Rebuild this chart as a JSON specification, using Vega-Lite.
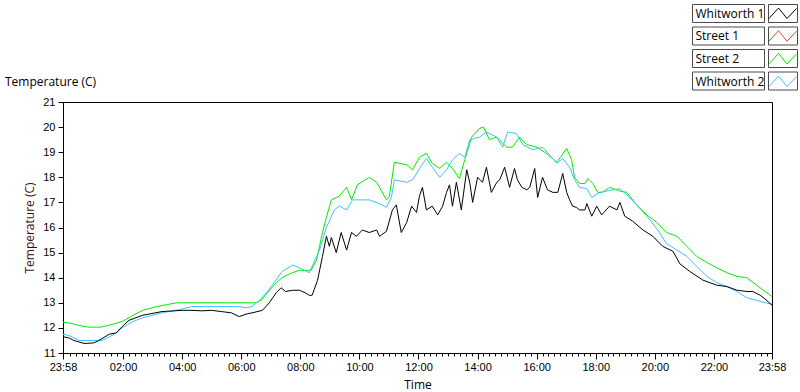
{
"$schema": "https://vega.github.io/schema/vega-lite/v6.json",
"autosize": {"type": "none"},
"width": 709,
"height": 251,
"padding": {"left": 63, "top": 102, "right": 28, "bottom": 39},
"background": "white",
"title": {"text": "Temperature (C)", "anchor": "start", "frame": "group", "dx": -58, "dy": 109, "offset": 14, "baseline": "alphabetic", "font": "Open Sans", "fontSize": 12, "fontWeight": "normal", "color": "black"},
"config": {
  "view": {"stroke": "black", "strokeWidth": 1},
  "axis": {"grid": false, "labelFont": "Liberation Sans", "labelFontSize": 11, "labelColor": "black", "domainColor": "black", "tickColor": "black", "titleFont": "Open Sans", "titleFontSize": 12, "titleFontWeight": "normal", "titleColor": "black"}
},
"data": {"values": [
{"s":"Street 2","t":"2024-01-01T23:58","v":12.22},
{"s":"Street 2","t":"2024-01-02T00:10","v":12.2},
{"s":"Street 2","t":"2024-01-02T00:30","v":12.1},
{"s":"Street 2","t":"2024-01-02T00:50","v":12.03},
{"s":"Street 2","t":"2024-01-02T01:15","v":12.03},
{"s":"Street 2","t":"2024-01-02T01:30","v":12.1},
{"s":"Street 2","t":"2024-01-02T01:45","v":12.18},
{"s":"Street 2","t":"2024-01-02T02:00","v":12.27},
{"s":"Street 2","t":"2024-01-02T02:20","v":12.5},
{"s":"Street 2","t":"2024-01-02T02:40","v":12.7},
{"s":"Street 2","t":"2024-01-02T03:08","v":12.85},
{"s":"Street 2","t":"2024-01-02T03:30","v":12.93},
{"s":"Street 2","t":"2024-01-02T03:48","v":13.0},
{"s":"Street 2","t":"2024-01-02T04:30","v":13.0},
{"s":"Street 2","t":"2024-01-02T05:30","v":13.0},
{"s":"Street 2","t":"2024-01-02T06:30","v":13.0},
{"s":"Street 2","t":"2024-01-02T06:40","v":13.1},
{"s":"Street 2","t":"2024-01-02T06:51","v":13.35},
{"s":"Street 2","t":"2024-01-02T07:11","v":13.8},
{"s":"Street 2","t":"2024-01-02T07:23","v":14.0},
{"s":"Street 2","t":"2024-01-02T07:38","v":14.15},
{"s":"Street 2","t":"2024-01-02T07:58","v":14.3},
{"s":"Street 2","t":"2024-01-02T08:10","v":14.28},
{"s":"Street 2","t":"2024-01-02T08:22","v":14.3},
{"s":"Street 2","t":"2024-01-02T08:33","v":14.7},
{"s":"Street 2","t":"2024-01-02T08:45","v":15.8},
{"s":"Street 2","t":"2024-01-02T08:53","v":16.4},
{"s":"Street 2","t":"2024-01-02T09:03","v":17.1},
{"s":"Street 2","t":"2024-01-02T09:19","v":17.25},
{"s":"Street 2","t":"2024-01-02T09:34","v":17.6},
{"s":"Street 2","t":"2024-01-02T09:44","v":17.1},
{"s":"Street 2","t":"2024-01-02T09:56","v":17.7},
{"s":"Street 2","t":"2024-01-02T10:20","v":18.0},
{"s":"Street 2","t":"2024-01-02T10:35","v":17.8},
{"s":"Street 2","t":"2024-01-02T10:55","v":17.1},
{"s":"Street 2","t":"2024-01-02T11:01","v":17.25},
{"s":"Street 2","t":"2024-01-02T11:11","v":18.6},
{"s":"Street 2","t":"2024-01-02T11:36","v":18.5},
{"s":"Street 2","t":"2024-01-02T11:48","v":18.3},
{"s":"Street 2","t":"2024-01-02T12:02","v":18.8},
{"s":"Street 2","t":"2024-01-02T12:16","v":18.95},
{"s":"Street 2","t":"2024-01-02T12:28","v":18.55},
{"s":"Street 2","t":"2024-01-02T12:43","v":18.35},
{"s":"Street 2","t":"2024-01-02T12:57","v":18.6},
{"s":"Street 2","t":"2024-01-02T13:09","v":18.35},
{"s":"Street 2","t":"2024-01-02T13:23","v":17.95},
{"s":"Street 2","t":"2024-01-02T13:34","v":18.7},
{"s":"Street 2","t":"2024-01-02T13:48","v":19.6},
{"s":"Street 2","t":"2024-01-02T14:04","v":19.95},
{"s":"Street 2","t":"2024-01-02T14:12","v":20.0},
{"s":"Street 2","t":"2024-01-02T14:24","v":19.5},
{"s":"Street 2","t":"2024-01-02T14:39","v":19.6},
{"s":"Street 2","t":"2024-01-02T14:59","v":19.2},
{"s":"Street 2","t":"2024-01-02T15:11","v":19.2},
{"s":"Street 2","t":"2024-01-02T15:25","v":19.6},
{"s":"Street 2","t":"2024-01-02T15:40","v":19.3},
{"s":"Street 2","t":"2024-01-02T16:00","v":19.2},
{"s":"Street 2","t":"2024-01-02T16:20","v":18.95},
{"s":"Street 2","t":"2024-01-02T16:41","v":18.6},
{"s":"Street 2","t":"2024-01-02T17:01","v":19.15},
{"s":"Street 2","t":"2024-01-02T17:11","v":18.7},
{"s":"Street 2","t":"2024-01-02T17:17","v":18.0},
{"s":"Street 2","t":"2024-01-02T17:27","v":17.75},
{"s":"Street 2","t":"2024-01-02T17:38","v":17.75},
{"s":"Street 2","t":"2024-01-02T17:44","v":17.95},
{"s":"Street 2","t":"2024-01-02T17:54","v":17.75},
{"s":"Street 2","t":"2024-01-02T18:04","v":17.4},
{"s":"Street 2","t":"2024-01-02T18:14","v":17.4},
{"s":"Street 2","t":"2024-01-02T18:28","v":17.6},
{"s":"Street 2","t":"2024-01-02T18:49","v":17.45},
{"s":"Street 2","t":"2024-01-02T19:03","v":17.4},
{"s":"Street 2","t":"2024-01-02T19:23","v":16.9},
{"s":"Street 2","t":"2024-01-02T19:44","v":16.5},
{"s":"Street 2","t":"2024-01-02T20:04","v":16.2},
{"s":"Street 2","t":"2024-01-02T20:24","v":15.8},
{"s":"Street 2","t":"2024-01-02T20:45","v":15.65},
{"s":"Street 2","t":"2024-01-02T21:05","v":15.25},
{"s":"Street 2","t":"2024-01-02T21:25","v":14.85},
{"s":"Street 2","t":"2024-01-02T21:46","v":14.6},
{"s":"Street 2","t":"2024-01-02T22:06","v":14.4},
{"s":"Street 2","t":"2024-01-02T22:26","v":14.2},
{"s":"Street 2","t":"2024-01-02T22:47","v":14.05},
{"s":"Street 2","t":"2024-01-02T23:07","v":14.0},
{"s":"Street 2","t":"2024-01-02T23:27","v":13.7},
{"s":"Street 2","t":"2024-01-02T23:44","v":13.45},
{"s":"Street 2","t":"2024-01-02T23:58","v":13.25},
{"s":"Whitworth 2","t":"2024-01-01T23:58","v":11.75},
{"s":"Whitworth 2","t":"2024-01-02T00:10","v":11.7},
{"s":"Whitworth 2","t":"2024-01-02T00:31","v":11.5},
{"s":"Whitworth 2","t":"2024-01-02T01:17","v":11.5},
{"s":"Whitworth 2","t":"2024-01-02T01:30","v":11.62},
{"s":"Whitworth 2","t":"2024-01-02T01:46","v":11.8},
{"s":"Whitworth 2","t":"2024-01-02T01:58","v":12.0},
{"s":"Whitworth 2","t":"2024-01-02T02:20","v":12.25},
{"s":"Whitworth 2","t":"2024-01-02T02:39","v":12.4},
{"s":"Whitworth 2","t":"2024-01-02T03:19","v":12.6},
{"s":"Whitworth 2","t":"2024-01-02T03:48","v":12.7},
{"s":"Whitworth 2","t":"2024-01-02T04:20","v":12.85},
{"s":"Whitworth 2","t":"2024-01-02T05:00","v":12.85},
{"s":"Whitworth 2","t":"2024-01-02T05:56","v":12.85},
{"s":"Whitworth 2","t":"2024-01-02T06:10","v":12.8},
{"s":"Whitworth 2","t":"2024-01-02T06:22","v":12.85},
{"s":"Whitworth 2","t":"2024-01-02T06:37","v":13.1},
{"s":"Whitworth 2","t":"2024-01-02T06:51","v":13.4},
{"s":"Whitworth 2","t":"2024-01-02T07:03","v":13.7},
{"s":"Whitworth 2","t":"2024-01-02T07:23","v":14.25},
{"s":"Whitworth 2","t":"2024-01-02T07:44","v":14.5},
{"s":"Whitworth 2","t":"2024-01-02T07:58","v":14.4},
{"s":"Whitworth 2","t":"2024-01-02T08:18","v":14.2},
{"s":"Whitworth 2","t":"2024-01-02T08:39","v":15.1},
{"s":"Whitworth 2","t":"2024-01-02T08:53","v":16.0},
{"s":"Whitworth 2","t":"2024-01-02T09:09","v":16.7},
{"s":"Whitworth 2","t":"2024-01-02T09:19","v":16.85},
{"s":"Whitworth 2","t":"2024-01-02T09:34","v":16.7},
{"s":"Whitworth 2","t":"2024-01-02T09:46","v":17.1},
{"s":"Whitworth 2","t":"2024-01-02T10:20","v":17.1},
{"s":"Whitworth 2","t":"2024-01-02T10:41","v":16.95},
{"s":"Whitworth 2","t":"2024-01-02T10:55","v":16.8},
{"s":"Whitworth 2","t":"2024-01-02T11:05","v":17.2},
{"s":"Whitworth 2","t":"2024-01-02T11:11","v":17.9},
{"s":"Whitworth 2","t":"2024-01-02T11:36","v":17.8},
{"s":"Whitworth 2","t":"2024-01-02T11:48","v":17.9},
{"s":"Whitworth 2","t":"2024-01-02T12:02","v":18.35},
{"s":"Whitworth 2","t":"2024-01-02T12:16","v":18.75},
{"s":"Whitworth 2","t":"2024-01-02T12:28","v":18.4},
{"s":"Whitworth 2","t":"2024-01-02T12:43","v":18.0},
{"s":"Whitworth 2","t":"2024-01-02T12:57","v":18.3},
{"s":"Whitworth 2","t":"2024-01-02T13:09","v":18.7},
{"s":"Whitworth 2","t":"2024-01-02T13:23","v":18.95},
{"s":"Whitworth 2","t":"2024-01-02T13:34","v":18.8},
{"s":"Whitworth 2","t":"2024-01-02T13:44","v":19.5},
{"s":"Whitworth 2","t":"2024-01-02T14:04","v":19.6},
{"s":"Whitworth 2","t":"2024-01-02T14:18","v":19.8},
{"s":"Whitworth 2","t":"2024-01-02T14:39","v":19.6},
{"s":"Whitworth 2","t":"2024-01-02T14:51","v":19.2},
{"s":"Whitworth 2","t":"2024-01-02T15:01","v":19.8},
{"s":"Whitworth 2","t":"2024-01-02T15:19","v":19.75},
{"s":"Whitworth 2","t":"2024-01-02T15:32","v":19.3},
{"s":"Whitworth 2","t":"2024-01-02T15:52","v":19.1},
{"s":"Whitworth 2","t":"2024-01-02T16:12","v":19.2},
{"s":"Whitworth 2","t":"2024-01-02T16:26","v":18.9},
{"s":"Whitworth 2","t":"2024-01-02T16:41","v":18.55},
{"s":"Whitworth 2","t":"2024-01-02T16:53","v":18.75},
{"s":"Whitworth 2","t":"2024-01-02T17:07","v":18.4},
{"s":"Whitworth 2","t":"2024-01-02T17:17","v":17.9},
{"s":"Whitworth 2","t":"2024-01-02T17:27","v":17.6},
{"s":"Whitworth 2","t":"2024-01-02T17:42","v":17.55},
{"s":"Whitworth 2","t":"2024-01-02T17:52","v":17.2},
{"s":"Whitworth 2","t":"2024-01-02T18:08","v":17.4},
{"s":"Whitworth 2","t":"2024-01-02T18:22","v":17.45},
{"s":"Whitworth 2","t":"2024-01-02T18:35","v":17.5},
{"s":"Whitworth 2","t":"2024-01-02T18:49","v":17.55},
{"s":"Whitworth 2","t":"2024-01-02T19:03","v":17.3},
{"s":"Whitworth 2","t":"2024-01-02T19:23","v":16.9},
{"s":"Whitworth 2","t":"2024-01-02T19:44","v":16.45},
{"s":"Whitworth 2","t":"2024-01-02T20:04","v":15.95},
{"s":"Whitworth 2","t":"2024-01-02T20:24","v":15.35},
{"s":"Whitworth 2","t":"2024-01-02T20:45","v":15.1},
{"s":"Whitworth 2","t":"2024-01-02T21:05","v":14.85},
{"s":"Whitworth 2","t":"2024-01-02T21:25","v":14.45},
{"s":"Whitworth 2","t":"2024-01-02T21:46","v":14.05},
{"s":"Whitworth 2","t":"2024-01-02T22:06","v":13.8},
{"s":"Whitworth 2","t":"2024-01-02T22:26","v":13.65},
{"s":"Whitworth 2","t":"2024-01-02T22:47","v":13.45},
{"s":"Whitworth 2","t":"2024-01-02T23:07","v":13.2},
{"s":"Whitworth 2","t":"2024-01-02T23:27","v":13.1},
{"s":"Whitworth 2","t":"2024-01-02T23:44","v":13.0},
{"s":"Whitworth 2","t":"2024-01-02T23:58","v":12.95},
{"s":"Whitworth 1","t":"2024-01-01T23:58","v":11.65},
{"s":"Whitworth 1","t":"2024-01-02T00:10","v":11.6},
{"s":"Whitworth 1","t":"2024-01-02T00:20","v":11.5},
{"s":"Whitworth 1","t":"2024-01-02T00:41","v":11.38},
{"s":"Whitworth 1","t":"2024-01-02T01:00","v":11.4},
{"s":"Whitworth 1","t":"2024-01-02T01:11","v":11.5},
{"s":"Whitworth 1","t":"2024-01-02T01:32","v":11.75},
{"s":"Whitworth 1","t":"2024-01-02T01:46","v":11.8},
{"s":"Whitworth 1","t":"2024-01-02T01:58","v":12.05},
{"s":"Whitworth 1","t":"2024-01-02T02:12","v":12.3},
{"s":"Whitworth 1","t":"2024-01-02T02:39","v":12.5},
{"s":"Whitworth 1","t":"2024-01-02T03:19","v":12.65},
{"s":"Whitworth 1","t":"2024-01-02T04:00","v":12.7},
{"s":"Whitworth 1","t":"2024-01-02T04:20","v":12.7},
{"s":"Whitworth 1","t":"2024-01-02T04:40","v":12.68},
{"s":"Whitworth 1","t":"2024-01-02T05:00","v":12.7},
{"s":"Whitworth 1","t":"2024-01-02T05:20","v":12.65},
{"s":"Whitworth 1","t":"2024-01-02T05:40","v":12.6},
{"s":"Whitworth 1","t":"2024-01-02T05:56","v":12.45},
{"s":"Whitworth 1","t":"2024-01-02T06:10","v":12.55},
{"s":"Whitworth 1","t":"2024-01-02T06:22","v":12.6},
{"s":"Whitworth 1","t":"2024-01-02T06:43","v":12.7},
{"s":"Whitworth 1","t":"2024-01-02T06:57","v":13.0},
{"s":"Whitworth 1","t":"2024-01-02T07:11","v":13.4},
{"s":"Whitworth 1","t":"2024-01-02T07:21","v":13.6},
{"s":"Whitworth 1","t":"2024-01-02T07:30","v":13.45},
{"s":"Whitworth 1","t":"2024-01-02T07:44","v":13.5},
{"s":"Whitworth 1","t":"2024-01-02T07:58","v":13.5},
{"s":"Whitworth 1","t":"2024-01-02T08:10","v":13.4},
{"s":"Whitworth 1","t":"2024-01-02T08:18","v":13.3},
{"s":"Whitworth 1","t":"2024-01-02T08:24","v":13.3},
{"s":"Whitworth 1","t":"2024-01-02T08:35","v":13.9},
{"s":"Whitworth 1","t":"2024-01-02T08:45","v":14.85},
{"s":"Whitworth 1","t":"2024-01-02T08:53","v":15.65},
{"s":"Whitworth 1","t":"2024-01-02T08:59","v":15.25},
{"s":"Whitworth 1","t":"2024-01-02T09:03","v":15.6},
{"s":"Whitworth 1","t":"2024-01-02T09:13","v":15.0},
{"s":"Whitworth 1","t":"2024-01-02T09:23","v":15.8},
{"s":"Whitworth 1","t":"2024-01-02T09:34","v":15.1},
{"s":"Whitworth 1","t":"2024-01-02T09:44","v":15.8},
{"s":"Whitworth 1","t":"2024-01-02T09:54","v":15.65},
{"s":"Whitworth 1","t":"2024-01-02T10:06","v":15.9},
{"s":"Whitworth 1","t":"2024-01-02T10:20","v":15.8},
{"s":"Whitworth 1","t":"2024-01-02T10:35","v":15.9},
{"s":"Whitworth 1","t":"2024-01-02T10:41","v":15.65},
{"s":"Whitworth 1","t":"2024-01-02T10:55","v":15.85},
{"s":"Whitworth 1","t":"2024-01-02T11:07","v":16.7},
{"s":"Whitworth 1","t":"2024-01-02T11:15","v":16.9},
{"s":"Whitworth 1","t":"2024-01-02T11:25","v":15.8},
{"s":"Whitworth 1","t":"2024-01-02T11:36","v":16.2},
{"s":"Whitworth 1","t":"2024-01-02T11:46","v":16.85},
{"s":"Whitworth 1","t":"2024-01-02T11:56","v":16.6},
{"s":"Whitworth 1","t":"2024-01-02T12:02","v":17.25},
{"s":"Whitworth 1","t":"2024-01-02T12:08","v":17.6},
{"s":"Whitworth 1","t":"2024-01-02T12:16","v":16.7},
{"s":"Whitworth 1","t":"2024-01-02T12:28","v":16.85},
{"s":"Whitworth 1","t":"2024-01-02T12:39","v":16.5},
{"s":"Whitworth 1","t":"2024-01-02T12:49","v":16.85},
{"s":"Whitworth 1","t":"2024-01-02T12:57","v":17.4},
{"s":"Whitworth 1","t":"2024-01-02T13:03","v":17.7},
{"s":"Whitworth 1","t":"2024-01-02T13:09","v":16.85},
{"s":"Whitworth 1","t":"2024-01-02T13:17","v":17.8},
{"s":"Whitworth 1","t":"2024-01-02T13:27","v":16.7},
{"s":"Whitworth 1","t":"2024-01-02T13:38","v":18.3},
{"s":"Whitworth 1","t":"2024-01-02T13:44","v":17.8},
{"s":"Whitworth 1","t":"2024-01-02T13:50","v":17.0},
{"s":"Whitworth 1","t":"2024-01-02T14:00","v":18.0},
{"s":"Whitworth 1","t":"2024-01-02T14:10","v":17.8},
{"s":"Whitworth 1","t":"2024-01-02T14:18","v":18.4},
{"s":"Whitworth 1","t":"2024-01-02T14:28","v":17.4},
{"s":"Whitworth 1","t":"2024-01-02T14:39","v":17.8},
{"s":"Whitworth 1","t":"2024-01-02T14:45","v":17.9},
{"s":"Whitworth 1","t":"2024-01-02T14:55","v":18.4},
{"s":"Whitworth 1","t":"2024-01-02T15:05","v":17.6},
{"s":"Whitworth 1","t":"2024-01-02T15:15","v":18.35},
{"s":"Whitworth 1","t":"2024-01-02T15:21","v":17.9},
{"s":"Whitworth 1","t":"2024-01-02T15:30","v":17.6},
{"s":"Whitworth 1","t":"2024-01-02T15:40","v":17.5},
{"s":"Whitworth 1","t":"2024-01-02T15:46","v":17.6},
{"s":"Whitworth 1","t":"2024-01-02T15:56","v":18.35},
{"s":"Whitworth 1","t":"2024-01-02T16:02","v":17.2},
{"s":"Whitworth 1","t":"2024-01-02T16:12","v":18.0},
{"s":"Whitworth 1","t":"2024-01-02T16:22","v":17.5},
{"s":"Whitworth 1","t":"2024-01-02T16:33","v":17.4},
{"s":"Whitworth 1","t":"2024-01-02T16:43","v":17.4},
{"s":"Whitworth 1","t":"2024-01-02T16:53","v":18.15},
{"s":"Whitworth 1","t":"2024-01-02T17:01","v":17.4},
{"s":"Whitworth 1","t":"2024-01-02T17:07","v":17.1},
{"s":"Whitworth 1","t":"2024-01-02T17:13","v":16.85},
{"s":"Whitworth 1","t":"2024-01-02T17:21","v":16.8},
{"s":"Whitworth 1","t":"2024-01-02T17:27","v":16.7},
{"s":"Whitworth 1","t":"2024-01-02T17:38","v":16.7},
{"s":"Whitworth 1","t":"2024-01-02T17:42","v":16.95},
{"s":"Whitworth 1","t":"2024-01-02T17:52","v":16.45},
{"s":"Whitworth 1","t":"2024-01-02T18:02","v":16.85},
{"s":"Whitworth 1","t":"2024-01-02T18:12","v":16.5},
{"s":"Whitworth 1","t":"2024-01-02T18:28","v":16.85},
{"s":"Whitworth 1","t":"2024-01-02T18:43","v":16.7},
{"s":"Whitworth 1","t":"2024-01-02T18:49","v":17.0},
{"s":"Whitworth 1","t":"2024-01-02T18:59","v":16.45},
{"s":"Whitworth 1","t":"2024-01-02T19:15","v":16.25},
{"s":"Whitworth 1","t":"2024-01-02T19:36","v":15.9},
{"s":"Whitworth 1","t":"2024-01-02T19:56","v":15.65},
{"s":"Whitworth 1","t":"2024-01-02T20:16","v":15.25},
{"s":"Whitworth 1","t":"2024-01-02T20:37","v":15.05},
{"s":"Whitworth 1","t":"2024-01-02T20:51","v":14.55},
{"s":"Whitworth 1","t":"2024-01-02T21:11","v":14.25},
{"s":"Whitworth 1","t":"2024-01-02T21:38","v":13.9},
{"s":"Whitworth 1","t":"2024-01-02T22:06","v":13.7},
{"s":"Whitworth 1","t":"2024-01-02T22:26","v":13.65},
{"s":"Whitworth 1","t":"2024-01-02T22:47","v":13.5},
{"s":"Whitworth 1","t":"2024-01-02T23:07","v":13.45},
{"s":"Whitworth 1","t":"2024-01-02T23:19","v":13.45},
{"s":"Whitworth 1","t":"2024-01-02T23:34","v":13.3},
{"s":"Whitworth 1","t":"2024-01-02T23:44","v":13.15},
{"s":"Whitworth 1","t":"2024-01-02T23:58","v":12.9}
]},
"layer": [
  {
    "mark": {"type": "line", "strokeWidth": 1},
    "encoding": {
      "x": {"field": "t", "type": "temporal", "title": "Time",
        "scale": {"domain": [{"year": 2024, "month": 1, "date": 1, "hours": 23, "minutes": 58}, {"year": 2024, "month": 1, "date": 2, "hours": 23, "minutes": 58}]},
        "axis": {"orient": "bottom", "labelFlush": false, "labelOverlap": false, "labelPadding": 2, "titlePadding": 7,
          "tickSize": {"condition": {"test": "minutes(datum.value) == 58 || (minutes(datum.value) == 0 && hours(datum.value) % 2 == 0)", "value": 6}, "value": 3},
          "labelExpr": "minutes(datum.value) == 58 || (minutes(datum.value) == 0 && hours(datum.value) % 2 == 0) ? timeFormat(datum.value, '%H:%M') : ''",
          "values": [
{"year":2024,"month":1,"date":1,"hours":23,"minutes":58},
{"year":2024,"month":1,"date":2,"hours":0,"minutes":12},{"year":2024,"month":1,"date":2,"hours":0,"minutes":24},{"year":2024,"month":1,"date":2,"hours":0,"minutes":36},{"year":2024,"month":1,"date":2,"hours":0,"minutes":48},
{"year":2024,"month":1,"date":2,"hours":1,"minutes":0},{"year":2024,"month":1,"date":2,"hours":1,"minutes":12},{"year":2024,"month":1,"date":2,"hours":1,"minutes":24},{"year":2024,"month":1,"date":2,"hours":1,"minutes":36},{"year":2024,"month":1,"date":2,"hours":1,"minutes":48},
{"year":2024,"month":1,"date":2,"hours":2,"minutes":0},{"year":2024,"month":1,"date":2,"hours":2,"minutes":12},{"year":2024,"month":1,"date":2,"hours":2,"minutes":24},{"year":2024,"month":1,"date":2,"hours":2,"minutes":36},{"year":2024,"month":1,"date":2,"hours":2,"minutes":48},
{"year":2024,"month":1,"date":2,"hours":3,"minutes":0},{"year":2024,"month":1,"date":2,"hours":3,"minutes":12},{"year":2024,"month":1,"date":2,"hours":3,"minutes":24},{"year":2024,"month":1,"date":2,"hours":3,"minutes":36},{"year":2024,"month":1,"date":2,"hours":3,"minutes":48},
{"year":2024,"month":1,"date":2,"hours":4,"minutes":0},{"year":2024,"month":1,"date":2,"hours":4,"minutes":12},{"year":2024,"month":1,"date":2,"hours":4,"minutes":24},{"year":2024,"month":1,"date":2,"hours":4,"minutes":36},{"year":2024,"month":1,"date":2,"hours":4,"minutes":48},
{"year":2024,"month":1,"date":2,"hours":5,"minutes":0},{"year":2024,"month":1,"date":2,"hours":5,"minutes":12},{"year":2024,"month":1,"date":2,"hours":5,"minutes":24},{"year":2024,"month":1,"date":2,"hours":5,"minutes":36},{"year":2024,"month":1,"date":2,"hours":5,"minutes":48},
{"year":2024,"month":1,"date":2,"hours":6,"minutes":0},{"year":2024,"month":1,"date":2,"hours":6,"minutes":12},{"year":2024,"month":1,"date":2,"hours":6,"minutes":24},{"year":2024,"month":1,"date":2,"hours":6,"minutes":36},{"year":2024,"month":1,"date":2,"hours":6,"minutes":48},
{"year":2024,"month":1,"date":2,"hours":7,"minutes":0},{"year":2024,"month":1,"date":2,"hours":7,"minutes":12},{"year":2024,"month":1,"date":2,"hours":7,"minutes":24},{"year":2024,"month":1,"date":2,"hours":7,"minutes":36},{"year":2024,"month":1,"date":2,"hours":7,"minutes":48},
{"year":2024,"month":1,"date":2,"hours":8,"minutes":0},{"year":2024,"month":1,"date":2,"hours":8,"minutes":12},{"year":2024,"month":1,"date":2,"hours":8,"minutes":24},{"year":2024,"month":1,"date":2,"hours":8,"minutes":36},{"year":2024,"month":1,"date":2,"hours":8,"minutes":48},
{"year":2024,"month":1,"date":2,"hours":9,"minutes":0},{"year":2024,"month":1,"date":2,"hours":9,"minutes":12},{"year":2024,"month":1,"date":2,"hours":9,"minutes":24},{"year":2024,"month":1,"date":2,"hours":9,"minutes":36},{"year":2024,"month":1,"date":2,"hours":9,"minutes":48},
{"year":2024,"month":1,"date":2,"hours":10,"minutes":0},{"year":2024,"month":1,"date":2,"hours":10,"minutes":12},{"year":2024,"month":1,"date":2,"hours":10,"minutes":24},{"year":2024,"month":1,"date":2,"hours":10,"minutes":36},{"year":2024,"month":1,"date":2,"hours":10,"minutes":48},
{"year":2024,"month":1,"date":2,"hours":11,"minutes":0},{"year":2024,"month":1,"date":2,"hours":11,"minutes":12},{"year":2024,"month":1,"date":2,"hours":11,"minutes":24},{"year":2024,"month":1,"date":2,"hours":11,"minutes":36},{"year":2024,"month":1,"date":2,"hours":11,"minutes":48},
{"year":2024,"month":1,"date":2,"hours":12,"minutes":0},{"year":2024,"month":1,"date":2,"hours":12,"minutes":12},{"year":2024,"month":1,"date":2,"hours":12,"minutes":24},{"year":2024,"month":1,"date":2,"hours":12,"minutes":36},{"year":2024,"month":1,"date":2,"hours":12,"minutes":48},
{"year":2024,"month":1,"date":2,"hours":13,"minutes":0},{"year":2024,"month":1,"date":2,"hours":13,"minutes":12},{"year":2024,"month":1,"date":2,"hours":13,"minutes":24},{"year":2024,"month":1,"date":2,"hours":13,"minutes":36},{"year":2024,"month":1,"date":2,"hours":13,"minutes":48},
{"year":2024,"month":1,"date":2,"hours":14,"minutes":0},{"year":2024,"month":1,"date":2,"hours":14,"minutes":12},{"year":2024,"month":1,"date":2,"hours":14,"minutes":24},{"year":2024,"month":1,"date":2,"hours":14,"minutes":36},{"year":2024,"month":1,"date":2,"hours":14,"minutes":48},
{"year":2024,"month":1,"date":2,"hours":15,"minutes":0},{"year":2024,"month":1,"date":2,"hours":15,"minutes":12},{"year":2024,"month":1,"date":2,"hours":15,"minutes":24},{"year":2024,"month":1,"date":2,"hours":15,"minutes":36},{"year":2024,"month":1,"date":2,"hours":15,"minutes":48},
{"year":2024,"month":1,"date":2,"hours":16,"minutes":0},{"year":2024,"month":1,"date":2,"hours":16,"minutes":12},{"year":2024,"month":1,"date":2,"hours":16,"minutes":24},{"year":2024,"month":1,"date":2,"hours":16,"minutes":36},{"year":2024,"month":1,"date":2,"hours":16,"minutes":48},
{"year":2024,"month":1,"date":2,"hours":17,"minutes":0},{"year":2024,"month":1,"date":2,"hours":17,"minutes":12},{"year":2024,"month":1,"date":2,"hours":17,"minutes":24},{"year":2024,"month":1,"date":2,"hours":17,"minutes":36},{"year":2024,"month":1,"date":2,"hours":17,"minutes":48},
{"year":2024,"month":1,"date":2,"hours":18,"minutes":0},{"year":2024,"month":1,"date":2,"hours":18,"minutes":12},{"year":2024,"month":1,"date":2,"hours":18,"minutes":24},{"year":2024,"month":1,"date":2,"hours":18,"minutes":36},{"year":2024,"month":1,"date":2,"hours":18,"minutes":48},
{"year":2024,"month":1,"date":2,"hours":19,"minutes":0},{"year":2024,"month":1,"date":2,"hours":19,"minutes":12},{"year":2024,"month":1,"date":2,"hours":19,"minutes":24},{"year":2024,"month":1,"date":2,"hours":19,"minutes":36},{"year":2024,"month":1,"date":2,"hours":19,"minutes":48},
{"year":2024,"month":1,"date":2,"hours":20,"minutes":0},{"year":2024,"month":1,"date":2,"hours":20,"minutes":12},{"year":2024,"month":1,"date":2,"hours":20,"minutes":24},{"year":2024,"month":1,"date":2,"hours":20,"minutes":36},{"year":2024,"month":1,"date":2,"hours":20,"minutes":48},
{"year":2024,"month":1,"date":2,"hours":21,"minutes":0},{"year":2024,"month":1,"date":2,"hours":21,"minutes":12},{"year":2024,"month":1,"date":2,"hours":21,"minutes":24},{"year":2024,"month":1,"date":2,"hours":21,"minutes":36},{"year":2024,"month":1,"date":2,"hours":21,"minutes":48},
{"year":2024,"month":1,"date":2,"hours":22,"minutes":0},{"year":2024,"month":1,"date":2,"hours":22,"minutes":12},{"year":2024,"month":1,"date":2,"hours":22,"minutes":24},{"year":2024,"month":1,"date":2,"hours":22,"minutes":36},{"year":2024,"month":1,"date":2,"hours":22,"minutes":48},
{"year":2024,"month":1,"date":2,"hours":23,"minutes":0},{"year":2024,"month":1,"date":2,"hours":23,"minutes":12},{"year":2024,"month":1,"date":2,"hours":23,"minutes":24},{"year":2024,"month":1,"date":2,"hours":23,"minutes":36},{"year":2024,"month":1,"date":2,"hours":23,"minutes":48},
{"year":2024,"month":1,"date":2,"hours":23,"minutes":58}
          ]}},
      "y": {"field": "v", "type": "quantitative", "title": "Temperature (C)", "scale": {"domain": [11, 21], "nice": false, "zero": false},
        "axis": {"orient": "left", "values": [11, 12, 13, 14, 15, 16, 17, 18, 19, 20, 21], "tickSize": 5, "labelPadding": 3, "titlePadding": 6, "titleColor": "#3a1010"}},
      "color": {"field": "s", "type": "nominal",
        "scale": {"domain": ["Whitworth 1", "Street 1", "Street 2", "Whitworth 2"], "range": ["#000000", "#ff3b3b", "#00ee00", "#40bfff"]},
        "legend": {"title": null, "orient": "none", "legendX": 709.5, "legendY": -99, "symbolType": "M-1.4,0.5L-0.45,-0.55L0.4,0.5L1.35,-0.5", "symbolSize": 400, "symbolStrokeWidth": 1, "labelFont": "Open Sans", "labelFontSize": 12, "labelColor": "black", "labelAlign": "left", "labelOffset": -98, "rowPadding": 4.7, "padding": 0}}
    }
  },
  {
    "transform": [{"filter": "datum.v > 100"}],
    "mark": {"type": "point", "filled": false, "color": "black", "strokeWidth": 1},
    "encoding": {
      "shape": {"field": "s", "type": "nominal",
        "scale": {"domain": ["1", "2", "3", "4"], "range": ["M-1.45,-0.9H1.45V0.9H-1.45Z M-9.05,-0.9H-1.85V0.9H-9.05Z", "M-1.45,-0.9H1.45V0.9H-1.45Z M-9.05,-0.9H-1.85V0.9H-9.05Z", "M-1.45,-0.9H1.45V0.9H-1.45Z M-9.05,-0.9H-1.85V0.9H-9.05Z", "M-1.45,-0.9H1.45V0.9H-1.45Z M-9.05,-0.9H-1.85V0.9H-9.05Z"]},
        "legend": {"title": null, "orient": "none", "legendX": 709.5, "legendY": -99, "symbolSize": 400, "symbolStrokeColor": "black", "symbolStrokeWidth": 1, "symbolFillColor": "transparent", "labelExpr": "''", "labelFontSize": 12, "labelFont": "Open Sans", "rowPadding": -0.5, "padding": 0}}
    }
  }
]
}
